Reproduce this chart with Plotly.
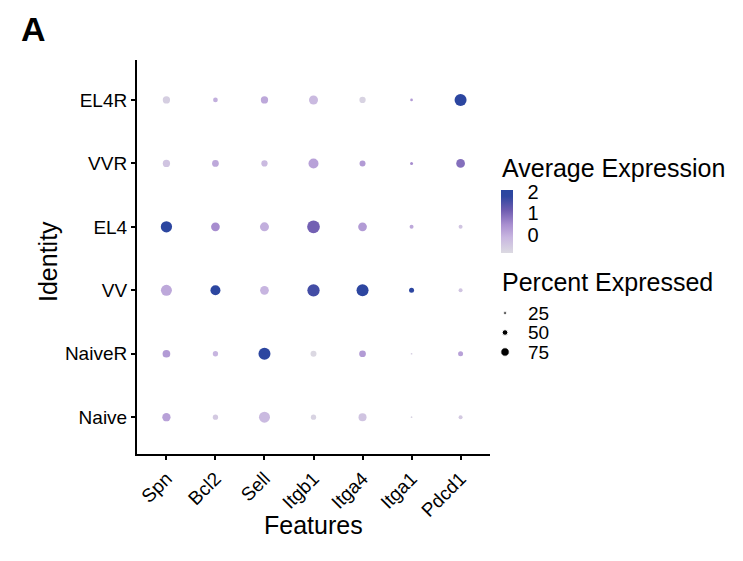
import plotly.graph_objects as go

# data
features = ["Spn", "Bcl2", "Sell", "Itgb1", "Itga4", "Itga1", "Pdcd1"]
identities = ["Naive", "NaiveR", "VV", "EL4", "VVR", "EL4R"]  # bottom -> top

# percent expressed, one row per identity (same order as identities)
pct_naive = [58, 37, 77, 37, 56, 12, 28]
pct_naiver = [54, 37, 84, 42, 47, 12, 35]
pct_vv = [77, 70, 61, 86, 84, 35, 28]
pct_el4 = [79, 61, 63, 89, 61, 28, 28]
pct_vvr = [51, 47, 44, 70, 42, 21, 61]
pct_el4r = [51, 33, 51, 63, 44, 19, 84]

# average (scaled) expression
avg_naive = [0.2, -0.5, -0.2, -0.7, -0.4, -0.7, -0.5]
avg_naiver = [0.3, -0.1, 2.0, -0.8, 0.3, -0.6, 0.2]
avg_vv = [0.1, 2.0, -0.1, 1.6, 1.9, 2.0, -0.4]
avg_el4 = [2.0, 0.5, 0.0, 1.1, 0.3, 0.1, -0.4]
avg_vvr = [-0.4, 0.1, -0.2, 0.2, 0.3, 0.5, 0.9]
avg_el4r = [-0.6, 0.0, 0.1, -0.2, -0.7, 0.3, 2.0]

colorbar_ticks = [0, 1, 2]
size_legend = [25, 50, 75]

pct_rows = [pct_naive, pct_naiver, pct_vv, pct_el4, pct_vvr, pct_el4r]
avg_rows = [avg_naive, avg_naiver, avg_vv, avg_el4, avg_vvr, avg_el4r]

xs, ys, sizes, cols = [], [], [], []
for ident, prow, arow in zip(identities, pct_rows, avg_rows):
    for f, p, a in zip(features, prow, arow):
        xs.append(f)
        ys.append(ident)
        sizes.append(p)
        cols.append(a)

scale = [[0, "#dcdae2"], [0.25, "#c8b6e0"], [0.45, "#a98fd0"],
         [0.68, "#6e5cb0"], [0.9, "#2f46a0"], [1, "#2a46a0"]]

# page geometry; the page body adds an 8px offset, so reference pixels are shifted
W, H = 743, 561
OFF = 8
ML, MR, MT, MB = 137 - OFF, 0, 60 - OFF, 115
PW, PH = W - ML - MR, H - MT - MB


def px(x):
    return (x - OFF - ML) / PW


def py(y):
    return (H - MB - (y - OFF)) / PH


fig = go.Figure()
fig.add_trace(go.Scatter(
    x=xs, y=ys, mode="markers",
    marker=dict(size=sizes, sizemode="diameter", sizeref=7, opacity=1,
                color=cols, colorscale=scale, cmin=-0.85, cmax=2.1,
                line=dict(width=0),
                colorbar=dict(x=px(501), xanchor="left", y=py(221.5), yanchor="middle",
                              thickness=12, thicknessmode="pixels",
                              len=63, lenmode="pixels", outlinewidth=0,
                              xpad=0, ypad=0, tickvals=colorbar_ticks,
                              ticks="outside", ticklen=11, tickcolor="rgba(0,0,0,0)",
                              tickfont=dict(size=20, color="black"))),
    showlegend=False, hoverinfo="skip"))

# size legend
fig.add_trace(go.Scatter(
    x=[0] * len(size_legend), y=size_legend, mode="markers",
    marker=dict(size=size_legend, sizemode="diameter", sizeref=8.8, opacity=1,
                color="black"),
    xaxis="x2", yaxis="y2", showlegend=False, hoverinfo="skip"))

font = "Liberation Sans, Arial, Helvetica, sans-serif"
fig.update_layout(
    width=W, height=H, margin=dict(l=ML, r=MR, t=MT, b=MB, autoexpand=False),
    paper_bgcolor="white", plot_bgcolor="white",
    font=dict(family=font, color="black"),
    xaxis=dict(domain=[0, 353 / PW], categoryorder="array", categoryarray=features,
               range=[-0.6, 6.6], showgrid=False, zeroline=False,
               showline=True, linecolor="black", linewidth=2,
               ticks="outside", ticklen=4, tickwidth=1.5, tickcolor="black",
               tickangle=-45, tickfont=dict(size=19), automargin=False),
    yaxis=dict(categoryorder="array", categoryarray=identities,
               range=[-0.58, 5.63], showgrid=False, zeroline=False,
               showline=True, linecolor="black", linewidth=2,
               ticks="outside", ticklen=4, tickwidth=1.5, tickcolor="black",
               tickfont=dict(size=19), automargin=False),
    xaxis2=dict(domain=[px(495), px(527)], range=[-0.9, 1.97], anchor="y2",
                visible=False),
    yaxis2=dict(domain=[py(365), py(300)], range=[91.7, 8.3], anchor="x2",
                side="right", showgrid=False, zeroline=False, showline=False,
                tickvals=size_legend, ticks="", tickfont=dict(size=19),
                automargin=False),
    annotations=[
        dict(text="<b>A</b>", x=px(19), y=py(OFF), xref="paper", yref="paper",
             xanchor="left", yanchor="top", showarrow=False,
             font=dict(size=34, color="black")),
        dict(text="Features", x=px(313), y=py(525), xref="paper", yref="paper",
             xanchor="center", yanchor="middle", showarrow=False, font=dict(size=25)),
        dict(text="Identity", x=px(48), y=py(262), xref="paper", yref="paper",
             xanchor="center", yanchor="middle", textangle=-90, showarrow=False,
             font=dict(size=25)),
        dict(text="Average Expression", x=px(500), y=py(168), xref="paper", yref="paper",
             xanchor="left", yanchor="middle", showarrow=False, font=dict(size=25)),
        dict(text="Percent Expressed", x=px(500), y=py(282), xref="paper", yref="paper",
             xanchor="left", yanchor="middle", showarrow=False, font=dict(size=25)),
    ],
)

fig.write_html("out.html")
